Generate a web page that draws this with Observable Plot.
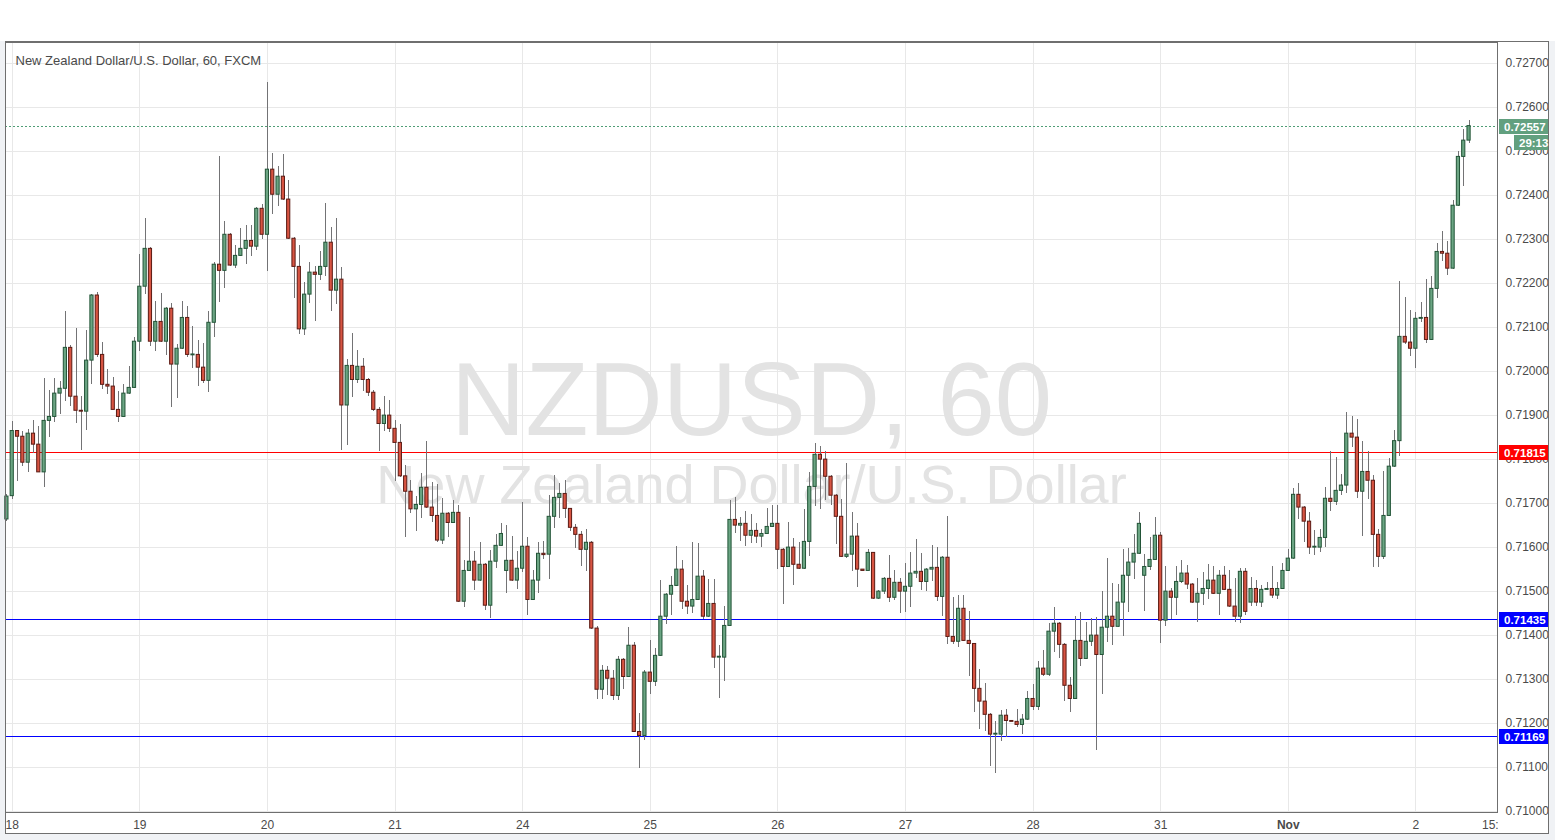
<!DOCTYPE html>
<html>
<head>
<meta charset="utf-8">
<script src="https://cdn.jsdelivr.net/npm/d3@7"></script>
<script src="https://cdn.jsdelivr.net/npm/@observablehq/plot@0.6"></script>
<style>
  html, body { margin: 0; padding: 0; background: #f0f2f5; }
  #chart { position: absolute; left: 0; top: 0; width: 1555px; height: 840px; }
</style>
</head>
<body>
<div id="chart"></div>
<script>
// ---- Data (hourly candles, NZD/USD 60, FXCM) ----
const opens = [0.71663,0.71716,0.71864,0.71851,0.71792,0.71858,0.71833,0.71770,0.71887,0.71896,
0.71949,0.71960,0.72053,0.71942,0.71910,0.71908,0.72024,0.72172,0.72037,0.71969,
0.71965,0.71912,0.71896,0.71949,0.71962,0.72067,0.72192,0.72278,0.72067,0.72112,
0.72067,0.72142,0.72015,0.72051,0.72121,0.72036,0.72037,0.72008,0.71978,0.72110,
0.72242,0.72228,0.72310,0.72240,0.72262,0.72278,0.72296,0.72283,0.72369,0.72310,
0.72458,0.72401,0.72442,0.72390,0.72301,0.72237,0.72095,0.72174,0.72224,0.72219,
0.72237,0.72292,0.72183,0.72208,0.71922,0.72012,0.71980,0.72010,0.71980,0.71951,
0.71912,0.71880,0.71899,0.71869,0.71837,0.71761,0.71726,0.71686,0.71696,0.71735,
0.71690,0.71671,0.71615,0.71676,0.71655,0.71678,0.71476,0.71546,0.71567,0.71524,
0.71560,0.71467,0.71567,0.71603,0.71546,0.71569,0.71524,0.71551,0.71601,0.71480,
0.71524,0.71585,0.71583,0.71669,0.71712,0.71721,0.71687,0.71644,0.71628,0.71594,
0.71610,0.71415,0.71276,0.71319,0.71301,0.71262,0.71344,0.71305,0.71376,0.71180,
0.71171,0.71315,0.71294,0.71353,0.71442,0.71492,0.71512,0.71549,0.71476,0.71465,
0.71480,0.71533,0.71442,0.71471,0.71349,0.71349,0.71421,0.71662,0.71649,0.71653,
0.71626,0.71637,0.71624,0.71630,0.71646,0.71653,0.71594,0.71555,0.71599,0.71560,
0.71551,0.71612,0.71737,0.71810,0.71799,0.71760,0.71717,0.71669,0.71578,0.71583,
0.71624,0.71549,0.71546,0.71587,0.71483,0.71499,0.71528,0.71485,0.71519,0.71499,
0.71510,0.71540,0.71544,0.71521,0.71549,0.71553,0.71487,0.71576,0.71396,0.71385,
0.71460,0.71387,0.71380,0.71278,0.71249,0.71219,0.71174,0.71174,0.71217,0.71205,
0.71203,0.71196,0.71208,0.71255,0.71237,0.71324,0.71310,0.71408,0.71426,0.71378,
0.71285,0.71255,0.71387,0.71346,0.71385,0.71399,0.71355,0.71417,0.71442,0.71419,
0.71474,0.71535,0.71565,0.71585,0.71535,0.71555,0.71571,0.71626,0.71433,0.71499,
0.71485,0.71521,0.71540,0.71515,0.71474,0.71494,0.71505,0.71524,0.71494,0.71535,
0.71503,0.71465,0.71442,0.71544,0.71474,0.71505,0.71474,0.71503,0.71505,0.71490,
0.71505,0.71546,0.71574,0.71719,0.71690,0.71658,0.71599,0.71599,0.71621,0.71710,
0.71703,0.71728,0.71740,0.71858,0.71849,0.71726,0.71771,0.71751,0.71628,0.71578,
0.71671,0.71783,0.71841,0.72078,0.72065,0.72051,0.72119,0.72121,0.72071,0.72187,
0.72271,0.72267,0.72233,0.72376,0.72487,0.72524];

const highs = [0.71720,0.71886,0.71866,0.71864,0.71868,0.71888,0.71875,0.71983,0.71956,0.71983,
0.71976,0.72136,0.72058,0.72096,0.71943,0.72093,0.72174,0.72178,0.72065,0.72004,
0.71985,0.71953,0.71969,0.72010,0.72076,0.72265,0.72347,0.72280,0.72158,0.72176,
0.72145,0.72153,0.72061,0.72158,0.72146,0.72101,0.72069,0.72062,0.72135,0.72246,
0.72487,0.72340,0.72312,0.72285,0.72324,0.72331,0.72331,0.72371,0.72378,0.72657,
0.72495,0.72465,0.72492,0.72433,0.72303,0.72285,0.72201,0.72247,0.72237,0.72271,
0.72380,0.72326,0.72346,0.72235,0.72026,0.72085,0.72046,0.72028,0.71983,0.71955,
0.71917,0.71942,0.71933,0.71888,0.71879,0.71786,0.71752,0.71716,0.71768,0.71840,
0.71746,0.71743,0.71710,0.71678,0.71705,0.71694,0.71570,0.71667,0.71590,0.71610,
0.71562,0.71592,0.71628,0.71653,0.71649,0.71624,0.71590,0.71702,0.71621,0.71546,
0.71610,0.71612,0.71718,0.71763,0.71745,0.71752,0.71689,0.71651,0.71635,0.71640,
0.71612,0.71419,0.71330,0.71328,0.71319,0.71351,0.71346,0.71417,0.71383,0.71221,
0.71319,0.71387,0.71369,0.71525,0.71494,0.71533,0.71601,0.71569,0.71512,0.71610,
0.71608,0.71546,0.71526,0.71526,0.71376,0.71465,0.71705,0.71713,0.71667,0.71680,
0.71674,0.71653,0.71640,0.71687,0.71694,0.71695,0.71596,0.71655,0.71619,0.71610,
0.71685,0.71769,0.71835,0.71828,0.71817,0.71762,0.71719,0.71708,0.71790,0.71678,
0.71653,0.71549,0.71594,0.71589,0.71501,0.71530,0.71580,0.71546,0.71528,0.71562,
0.71587,0.71617,0.71585,0.71551,0.71603,0.71599,0.71578,0.71669,0.71485,0.71490,
0.71490,0.71453,0.71382,0.71321,0.71290,0.71221,0.71203,0.71228,0.71230,0.71205,
0.71230,0.71219,0.71271,0.71287,0.71340,0.71365,0.71426,0.71462,0.71428,0.71380,
0.71303,0.71442,0.71451,0.71428,0.71437,0.71440,0.71499,0.71574,0.71517,0.71515,
0.71594,0.71596,0.71628,0.71678,0.71583,0.71621,0.71667,0.71633,0.71555,0.71505,
0.71555,0.71569,0.71558,0.71517,0.71528,0.71542,0.71560,0.71555,0.71546,0.71555,
0.71546,0.71528,0.71551,0.71551,0.71530,0.71524,0.71512,0.71519,0.71555,0.71519,
0.71564,0.71594,0.71733,0.71744,0.71692,0.71678,0.71637,0.71640,0.71735,0.71817,
0.71803,0.71765,0.71905,0.71896,0.71890,0.71840,0.71817,0.71762,0.71640,0.71771,
0.71801,0.71865,0.72203,0.72167,0.72138,0.72133,0.72155,0.72208,0.72215,0.72290,
0.72317,0.72294,0.72387,0.72499,0.72549,0.72569];

const lows = [0.71658,0.71708,0.71750,0.71784,0.71770,0.71812,0.71770,0.71736,0.71850,0.71883,
0.71902,0.71932,0.71920,0.71880,0.71820,0.71866,0.71970,0.72030,0.71958,0.71947,
0.71912,0.71884,0.71894,0.71947,0.71960,0.72045,0.72174,0.72057,0.72045,0.72065,
0.72036,0.71918,0.71939,0.72049,0.72030,0.72005,0.71966,0.71971,0.71951,0.72077,
0.72155,0.72187,0.72238,0.72234,0.72260,0.72242,0.72260,0.72274,0.72299,0.72227,
0.72357,0.72375,0.72388,0.72299,0.72165,0.72083,0.72082,0.72153,0.72112,0.72207,
0.72215,0.72135,0.72151,0.71820,0.71832,0.71940,0.71971,0.71953,0.71943,0.71909,
0.71818,0.71862,0.71860,0.71749,0.71759,0.71621,0.71676,0.71636,0.71665,0.71688,
0.71655,0.71610,0.71605,0.71621,0.71653,0.71474,0.71462,0.71544,0.71501,0.71522,
0.71456,0.71437,0.71551,0.71601,0.71494,0.71522,0.71503,0.71542,0.71444,0.71478,
0.71494,0.71572,0.71526,0.71642,0.71665,0.71665,0.71635,0.71598,0.71555,0.71544,
0.71412,0.71253,0.71253,0.71262,0.71251,0.71251,0.71276,0.71303,0.71178,0.71096,
0.71160,0.71265,0.71283,0.71351,0.71424,0.71444,0.71510,0.71458,0.71446,0.71449,
0.71478,0.71435,0.71440,0.71324,0.71255,0.71294,0.71419,0.71630,0.71612,0.71601,
0.71608,0.71608,0.71599,0.71628,0.71644,0.71549,0.71469,0.71553,0.71512,0.71549,
0.71549,0.71578,0.71693,0.71685,0.71707,0.71694,0.71605,0.71576,0.71574,0.71544,
0.71508,0.71546,0.71546,0.71481,0.71481,0.71492,0.71474,0.71478,0.71449,0.71451,
0.71462,0.71528,0.71501,0.71499,0.71521,0.71476,0.71443,0.71378,0.71378,0.71371,
0.71385,0.71305,0.71224,0.71185,0.71180,0.71101,0.71085,0.71158,0.71167,0.71203,
0.71190,0.71174,0.71206,0.71228,0.71228,0.71305,0.71305,0.71360,0.71346,0.71249,
0.71224,0.71253,0.71328,0.71344,0.71374,0.71137,0.71265,0.71383,0.71376,0.71417,
0.71396,0.71451,0.71526,0.71583,0.71453,0.71546,0.71569,0.71380,0.71419,0.71435,
0.71444,0.71517,0.71503,0.71472,0.71428,0.71467,0.71480,0.71492,0.71444,0.71501,
0.71463,0.71428,0.71426,0.71444,0.71465,0.71465,0.71462,0.71501,0.71483,0.71480,
0.71503,0.71544,0.71572,0.71662,0.71610,0.71583,0.71581,0.71588,0.71599,0.71680,
0.71694,0.71717,0.71721,0.71826,0.71710,0.71624,0.71708,0.71553,0.71553,0.71571,
0.71669,0.71780,0.71805,0.72061,0.72033,0.72005,0.72110,0.72062,0.72069,0.72165,
0.72249,0.72218,0.72231,0.72374,0.72419,0.72517];

const closes = [0.71715,0.71864,0.71851,0.71792,0.71858,0.71833,0.71770,0.71887,0.71896,0.71949,
0.71960,0.72053,0.71942,0.71910,0.71908,0.72024,0.72172,0.72037,0.71969,0.71965,
0.71912,0.71896,0.71949,0.71962,0.72067,0.72192,0.72278,0.72067,0.72112,0.72067,
0.72142,0.72015,0.72051,0.72121,0.72037,0.72037,0.72008,0.71978,0.72110,0.72242,
0.72228,0.72310,0.72240,0.72262,0.72278,0.72296,0.72283,0.72369,0.72310,0.72458,
0.72401,0.72442,0.72390,0.72301,0.72237,0.72095,0.72174,0.72224,0.72219,0.72237,
0.72292,0.72183,0.72208,0.71922,0.72012,0.71980,0.72010,0.71980,0.71951,0.71912,
0.71880,0.71899,0.71869,0.71837,0.71761,0.71726,0.71686,0.71696,0.71735,0.71690,
0.71671,0.71615,0.71676,0.71655,0.71678,0.71476,0.71546,0.71567,0.71524,0.71560,
0.71467,0.71567,0.71603,0.71630,0.71569,0.71524,0.71551,0.71601,0.71480,0.71524,
0.71585,0.71582,0.71669,0.71712,0.71721,0.71687,0.71644,0.71628,0.71594,0.71610,
0.71415,0.71276,0.71319,0.71301,0.71262,0.71344,0.71305,0.71376,0.71180,0.71171,
0.71315,0.71294,0.71353,0.71442,0.71492,0.71512,0.71549,0.71476,0.71465,0.71480,
0.71533,0.71442,0.71471,0.71349,0.71350,0.71421,0.71662,0.71649,0.71653,0.71626,
0.71637,0.71624,0.71630,0.71646,0.71653,0.71594,0.71555,0.71599,0.71560,0.71551,
0.71612,0.71737,0.71810,0.71799,0.71760,0.71717,0.71669,0.71578,0.71583,0.71624,
0.71549,0.71546,0.71587,0.71483,0.71499,0.71528,0.71485,0.71519,0.71499,0.71510,
0.71540,0.71544,0.71521,0.71549,0.71553,0.71487,0.71576,0.71396,0.71385,0.71460,
0.71387,0.71380,0.71278,0.71249,0.71219,0.71174,0.71175,0.71217,0.71205,0.71203,
0.71196,0.71208,0.71255,0.71237,0.71324,0.71310,0.71408,0.71426,0.71378,0.71285,
0.71255,0.71387,0.71346,0.71385,0.71399,0.71355,0.71417,0.71442,0.71419,0.71474,
0.71535,0.71565,0.71585,0.71653,0.71555,0.71571,0.71626,0.71433,0.71499,0.71485,
0.71521,0.71540,0.71515,0.71474,0.71494,0.71505,0.71524,0.71494,0.71535,0.71503,
0.71465,0.71442,0.71544,0.71453,0.71505,0.71474,0.71503,0.71505,0.71490,0.71505,
0.71546,0.71574,0.71719,0.71690,0.71658,0.71599,0.71600,0.71621,0.71710,0.71703,
0.71728,0.71740,0.71858,0.71849,0.71726,0.71771,0.71751,0.71628,0.71578,0.71671,
0.71783,0.71841,0.72078,0.72065,0.72051,0.72119,0.72121,0.72071,0.72187,0.72271,
0.72267,0.72233,0.72376,0.72487,0.72524,0.72557];

// time axis: candle index of each labelled hour and its label
const dayTickIndex = [1, 25, 49, 73, 97, 121, 145, 169, 193, 217, 241, 265, 279];
const dayTickLabels = ["18", "19", "20", "21", "24", "25", "26", "27", "28", "31", "Nov", "2", "15:"];
const dayTickBold = [false, false, false, false, false, false, false, false, false, false, true, false, false];

// price axis
const priceTicks = [0.710, 0.711, 0.712, 0.713, 0.714, 0.715, 0.716, 0.717, 0.718,
                    0.719, 0.720, 0.721, 0.722, 0.723, 0.724, 0.725, 0.726, 0.727];

// horizontal levels
const levelPrices = [0.71815, 0.71435, 0.71169];
const levelLineColors = ["#ff0000", "#0000ff", "#0000ff"];
const levelBoxColors = ["#ff0000", "#0000ff", "#0000ff"];
const lastPrice = 0.72557;
const countdown = "29:13";

const titleText = "New Zealand Dollar/U.S. Dollar, 60, FXCM";
const watermarkSymbol = "NZDUSD, 60";
const watermarkName = "New Zealand Dollar/U.S. Dollar";

// ---- Build ----
if (![highs, lows, closes].every(a => a.length === opens.length)) {
  throw new Error("array length mismatch " + [opens.length, highs.length, lows.length, closes.length]);
}
const candles = opens.map((o, i) => ({i, o, h: highs[i], l: lows[i], c: closes[i], up: closes[i] >= o}));
const dayTicks = dayTickIndex.map((i, k) => ({i, label: dayTickLabels[k], bold: dayTickBold[k]}));
const levels = levelPrices.map((p, k) => ({price: p, line: levelLineColors[k], box: levelBoxColors[k]}));

const GREEN_FILL = "#6ba583", GREEN_LINE = "#225437";
const RED_FILL = "#d75442", RED_LINE = "#5b1a13";
const WICK = "#737375";
const GRID = "#e8e8e8";
const FONT = "'Liberation Sans', Arial, sans-serif";
const minBody = 0.00002;
const CRISP = "crispEdges";

const plot = Plot.plot({
  width: 1555,
  height: 840,
  marginLeft: 5,
  marginRight: 58,
  marginTop: 42,
  marginBottom: 28,
  style: {fontFamily: FONT, fontSize: "12px", color: "#4a4a4a", background: "transparent", overflow: "visible"},
  x: {domain: [-0.263, 280.35], axis: null},
  y: {domain: [0.709970, 0.727470], axis: "right", ticks: priceTicks, tickFormat: d3.format(".5f"),
      tickSize: 0, tickPadding: 8, label: null},
  color: {type: "identity"},
  marks: [
    Plot.ruleY(priceTicks, {stroke: GRID, shapeRendering: CRISP}),
    Plot.ruleX(dayTicks.slice(0, 12), {x: "i", stroke: GRID, shapeRendering: CRISP}),
    Plot.text([watermarkSymbol], {frameAnchor: "middle", lineAnchor: "middle", fontSize: 103, fill: "#e3e3e3", dy: -25}),
    Plot.text([watermarkName], {frameAnchor: "middle", lineAnchor: "middle", fontSize: 54, fill: "#e3e3e3", dy: 58}),
    Plot.text([titleText], {frameAnchor: "top-left", textAnchor: "start", lineAnchor: "middle", dx: 10, dy: 18, fontSize: 13, fill: "#4a4a4a"}),
    Plot.ruleY(levels, {y: "price", stroke: "line", shapeRendering: CRISP}),
    Plot.ruleY([lastPrice], {stroke: "#4f9d76", strokeDasharray: "2,2", shapeRendering: CRISP}),
    Plot.ruleX(candles, {x: "i", y1: "l", y2: "h", stroke: WICK, shapeRendering: CRISP}),
    Plot.rect(candles, {
      x1: d => d.i - 0.3,
      x2: d => d.i + 0.3,
      y1: d => Math.min(d.o, d.c),
      y2: d => Math.max(Math.max(d.o, d.c), Math.min(d.o, d.c) + minBody),
      fill: d => d.up ? GREEN_FILL : RED_FILL,
      stroke: d => d.up ? GREEN_LINE : RED_LINE,
      strokeWidth: 1
    }),
    Plot.frame({stroke: "#6f6f6f", shapeRendering: CRISP}),
    Plot.text(dayTicks.filter(d => !d.bold), {x: "i", text: "label", frameAnchor: "bottom", lineAnchor: "middle", dy: 13, fill: "#4a4a4a", fontSize: 12}),
    Plot.text(dayTicks.filter(d => d.bold), {x: "i", text: "label", frameAnchor: "bottom", lineAnchor: "middle", dy: 13, fill: "#4a4a4a", fontSize: 12, fontWeight: "bold"})
  ]
});

const host = document.getElementById("chart");
// page background pieces (white top band + white chart panel)
const bg = d3.create("svg").attr("width", 1555).attr("height", 840)
  .style("position", "absolute").style("left", "0px").style("top", "0px");
bg.append("rect").attr("x", 0).attr("y", 0).attr("width", 1555).attr("height", 41).attr("fill", "#ffffff");
bg.append("rect").attr("x", 5.5).attr("y", 41.5).attr("width", 1543).attr("height", 792).attr("fill", "#ffffff");
host.appendChild(bg.node());
plot.style.position = "absolute";
plot.style.left = "0px";
plot.style.top = "0px";
host.appendChild(plot);

// overlays that use the plot's own y scale
const ys = plot.scale("y");
const svg = d3.select(plot);
svg.append("rect").attr("x", 5.5).attr("y", 41.5).attr("width", 1543).attr("height", 792)
  .attr("fill", "none").attr("stroke", "#6f6f6f").attr("shape-rendering", CRISP);

function priceBox(price, label, color, x, w, yOff) {
  const y = Math.round(ys.apply(price)) + yOff;
  svg.append("rect").attr("x", x).attr("y", y - 7.5).attr("width", w).attr("height", 15)
    .attr("fill", color).attr("shape-rendering", CRISP);
  svg.append("text").attr("x", x + 5).attr("y", y + 4.5)
    .attr("text-anchor", "start")
    .attr("fill", "#ffffff").attr("font-family", FONT).attr("font-size", 11.5).attr("font-weight", "bold")
    .text(label);
}
priceBox(lastPrice, d3.format(".5f")(lastPrice), "#62a07f", 1499, 49, 0);
priceBox(lastPrice, countdown, "#62a07f", 1514, 34, 16);
levels.forEach(l => priceBox(l.price, d3.format(".5f")(l.price), l.box, 1499, 49, 0));
</script>
</body>
</html>
